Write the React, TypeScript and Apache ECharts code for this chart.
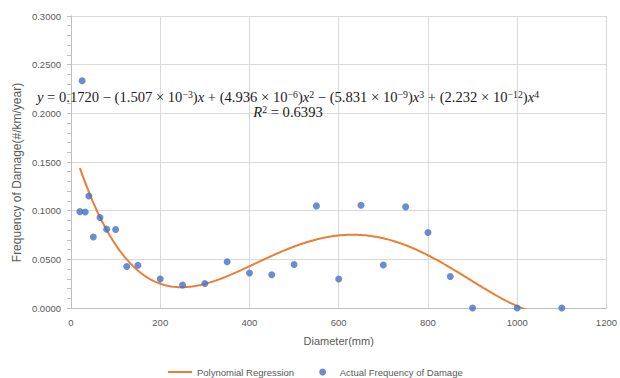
import React, { useEffect, useRef } from "react";
import * as echarts from "echarts";

const diameters = [20, 25, 32, 40, 50, 65, 80, 100, 125, 150, 200, 250, 300, 350, 400, 450, 500, 550, 600, 650, 700, 750, 800, 850, 900, 1000, 1100];
const frequencies = [0.099, 0.2334, 0.0987, 0.115, 0.073, 0.093, 0.081, 0.0806, 0.0427, 0.044, 0.0297, 0.0236, 0.0252, 0.0475, 0.0359, 0.0341, 0.0447, 0.1049, 0.0297, 0.1056, 0.0441, 0.1039, 0.0775, 0.0324, 0, 0, 0];
// Regression coefficients shown on the chart (c0 + c1 x + c2 x^2 + c3 x^3 + c4 x^4)
const coefficients = [0.1720, -1.507e-3, 4.936e-6, -5.831e-9, 2.232e-12];
const curveRange = [20, 1100];
const yTicks = ["0.0000", "0.0500", "0.1000", "0.1500", "0.2000", "0.2500", "0.3000"];
const xTicks = ["0", "200", "400", "600", "800", "1000", "1200"];

const equationLine1 =
  "{i|y} = 0.1720 − (1.507 × 10{s|−3}){i|x} + (4.936 × 10{s|−6}){i|x}{s|2} − (5.831 × 10{s|−9}){i|x}{s|3} + (2.232 × 10{s|−12}){i|x}{s|4}";
const equationLine2 = "{i|R}{s|2} = 0.6393";

export default function App() {
  const ref = useRef<HTMLDivElement>(null);
  useEffect(() => {
    if (!ref.current) return;
    const chart = echarts.init(ref.current, undefined, { renderer: "svg" });
    const curve: number[][] = [];
    for (let x = curveRange[0]; x <= curveRange[1]; x += 2) {
      let y = 0;
      for (let k = 0; k < coefficients.length; k++) y += coefficients[k] * Math.pow(x, k);
      curve.push([x, y]);
    }
    const scatter = diameters.map((d, i) => [d, frequencies[i]]);
    const sans = "'Liberation Sans', Arial, sans-serif";
    const serif = "'Liberation Serif', 'DejaVu Serif', serif";
    const fs = 14.6;
    const rich = {
      i: { fontFamily: serif, fontStyle: "italic", fontSize: fs, fill: "#1a1a1a" },
      s: { fontFamily: serif, fontSize: 9.8, verticalAlign: "top", fill: "#1a1a1a" },
    };
    chart.setOption({
      animation: false,
      backgroundColor: "#ffffff",
      grid: { left: 71, right: 13, top: 16, bottom: 70, containLabel: false },
      xAxis: {
        type: "value",
        min: 0,
        max: 1200,
        interval: 200,
        name: "Diameter(mm)",
        nameLocation: "middle",
        nameGap: 27,
        nameTextStyle: { color: "#595959", fontSize: 11, fontFamily: sans },
        axisLine: { show: true, lineStyle: { color: "#bfbfbf", width: 1 } },
        axisTick: { show: false },
        axisLabel: {
          color: "#595959",
          fontSize: 9.5,
          fontFamily: sans,
          margin: 9,
          formatter: (v: number) => xTicks[Math.round(v / 200)] ?? String(v),
        },
        splitLine: { show: true, lineStyle: { color: "#d9d9d9", width: 1 } },
      },
      yAxis: {
        type: "value",
        min: 0,
        max: 0.3,
        interval: 0.05,
        axisLine: { show: true, lineStyle: { color: "#bfbfbf", width: 1 } },
        axisTick: { show: true, inside: false, length: 4, lineStyle: { color: "#bfbfbf" } },
        minorTick: { show: true, splitNumber: 5, length: 4, lineStyle: { color: "#bfbfbf" } },
        axisLabel: {
          color: "#595959",
          fontSize: 9.5,
          fontFamily: sans,
          margin: 10,
          formatter: (v: number) => yTicks[Math.round(v / 0.05)] ?? v.toFixed(4),
        },
        splitLine: { show: true, lineStyle: { color: "#d9d9d9", width: 1 } },
      },
      legend: {
        left: 168,
        top: 367,
        padding: 0,
        itemWidth: 24,
        itemHeight: 7,
        itemGap: 25,
        textStyle: { color: "#595959", fontSize: 9.5, fontFamily: sans },
        data: [
          { name: "Polynomial Regression", icon: "path://M0,3L24,3L24,5L0,5Z" },
          { name: "Actual Frequency of Damage", icon: "circle" },
        ],
      },
      graphic: [
        {
          type: "text",
          x: 16.5,
          y: 172.5,
          rotation: Math.PI / 2,
          style: {
            text: "Frequency of Damage(#/km/year)",
            fill: "#595959",
            fontSize: 12,
            fontFamily: sans,
            align: "center",
            verticalAlign: "middle",
          },
        },
        {
          type: "text",
          x: 288,
          y: 97,
          z: 100,
          style: {
            text: equationLine1,
            rich,
            fill: "#1a1a1a",
            fontSize: fs,
            fontFamily: serif,
            align: "center",
            verticalAlign: "middle",
          },
        },
        {
          type: "text",
          x: 288,
          y: 112,
          z: 100,
          style: {
            text: equationLine2,
            rich,
            fill: "#1a1a1a",
            fontSize: fs,
            fontFamily: serif,
            align: "center",
            verticalAlign: "middle",
          },
        },
      ],
      series: [
        {
          name: "Polynomial Regression",
          type: "line",
          data: curve,
          symbol: "none",
          showSymbol: false,
          clip: true,
          lineStyle: { color: "#ED7D31", width: 2 },
          itemStyle: { color: "#ED7D31" },
          z: 2,
        },
        {
          name: "Actual Frequency of Damage",
          type: "scatter",
          data: scatter,
          symbol: "circle",
          symbolSize: 7,
          itemStyle: { color: "#4472C4" },
          z: 3,
        },
      ],
    });
    return () => chart.dispose();
  }, []);
  return <div ref={ref} style={{ width: 620, height: 378, position: "absolute", left: 0, top: 0 }} />;
}
